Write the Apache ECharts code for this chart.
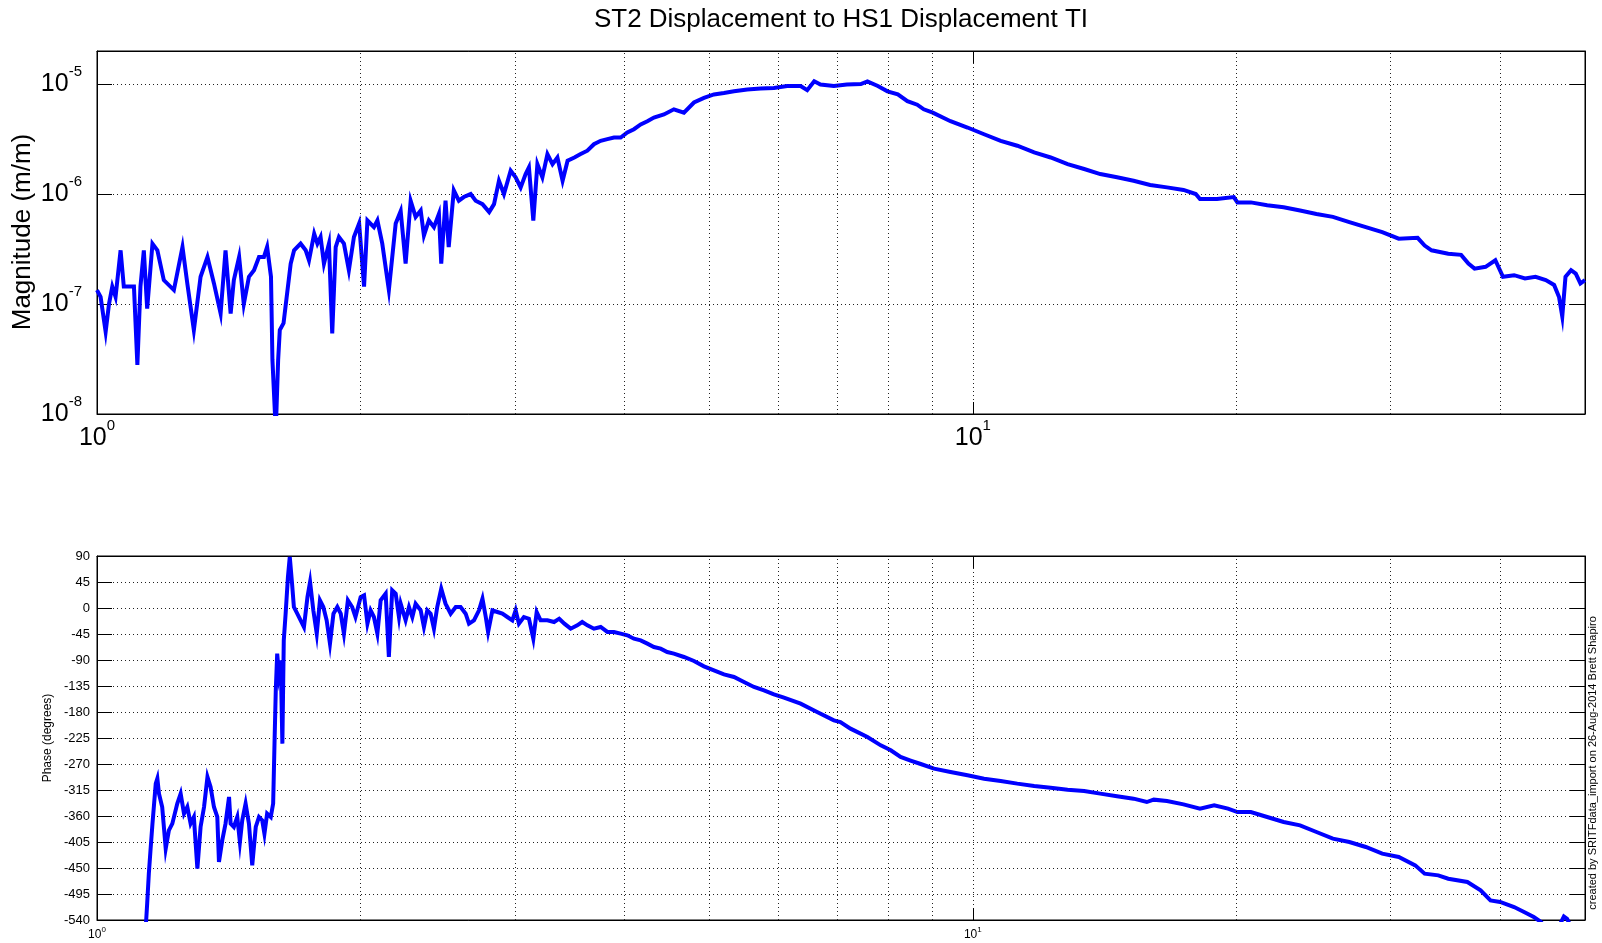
<!DOCTYPE html>
<html>
<head>
<meta charset="utf-8">
<title>ST2 Displacement to HS1 Displacement TI</title>
<script src="https://cdn.jsdelivr.net/npm/echarts@6/dist/echarts.min.js"></script>
<style>
  html, body { margin: 0; padding: 0; background: #fff; }
  #chart { width: 1602px; height: 943px; }
</style>
</head>
<body>
<div id="chart"></div>
<script>
// Transfer function ST2 displacement -> HS1 displacement, magnitude (m/m)
const magFreq = [
  1.000, 1.0095, 1.023, 1.032, 1.041, 1.050, 1.064, 1.073, 1.088, 1.102,
  1.112, 1.121, 1.131, 1.141, 1.157, 1.172, 1.192, 1.224, 1.252, 1.268,
  1.290, 1.313, 1.337, 1.360, 1.384, 1.402, 1.421, 1.433, 1.453, 1.471,
  1.491, 1.511, 1.531, 1.551, 1.564, 1.580, 1.586, 1.600, 1.610, 1.617,
  1.633, 1.664, 1.679, 1.708, 1.731, 1.746, 1.770, 1.785, 1.800, 1.816,
  1.840, 1.856, 1.873, 1.889, 1.914, 1.939, 1.965, 1.992, 2.018, 2.036,
  2.071, 2.090, 2.117, 2.154, 2.193, 2.222, 2.251, 2.281, 2.311, 2.342,
  2.362, 2.393, 2.425, 2.457, 2.472, 2.500, 2.521, 2.555, 2.589, 2.623,
  2.671, 2.706, 2.755, 2.804, 2.840, 2.877, 2.915, 2.967, 3.006, 3.046,
  3.086, 3.113, 3.149, 3.183, 3.225, 3.268, 3.312, 3.355, 3.401, 3.446,
  3.508, 3.566, 3.630, 3.693, 3.759, 3.826, 3.893, 3.962, 4.032, 4.103,
  4.176, 4.250, 4.324, 4.439, 4.557, 4.679, 4.804, 4.932, 5.063, 5.198,
  5.337, 5.526, 5.725, 5.928, 6.138, 6.359, 6.47, 6.59, 6.70, 6.94,
  7.18, 7.45, 7.58, 7.79, 7.99, 8.21, 8.42, 8.64, 8.79, 9.00,
  9.43, 9.86, 10.30, 10.76, 11.24, 11.75, 12.27, 12.83, 13.40, 13.98,
  14.61, 15.26, 15.94, 16.66, 17.40, 17.97, 18.17, 19.0, 19.86, 20.05,
  20.77, 21.68, 22.64, 23.64, 24.68, 25.77, 26.91, 28.10, 29.34, 30.64,
  32.2, 32.8, 33.4, 34.9, 36.1, 36.8, 37.4, 38.5, 39.5, 40.3,
  41.5, 42.7, 43.9, 45.1, 46.1, 46.7, 47.1, 47.5, 48.2, 48.8,
  49.4, 50.0
];
const magValue = [
  1.34e-7, 1.16e-7, 5.6e-8, 1.0e-7, 1.44e-7, 1.16e-7, 3.08e-7, 1.44e-7, 1.44e-7, 1.44e-7,
  2.8e-8, 1.44e-7, 3.08e-7, 9.1e-8, 3.54e-7, 3.08e-7, 1.65e-7, 1.34e-7, 3.3e-7, 1.54e-7,
  5.8e-8, 1.77e-7, 2.68e-7, 1.54e-7, 8.2e-8, 3.08e-7, 8.2e-8, 1.65e-7, 2.68e-7, 1.0e-7,
  1.77e-7, 2.03e-7, 2.68e-7, 2.68e-7, 3.3e-7, 1.77e-7, 3.1e-8, 7e-9, 3.1e-8, 5.8e-8,
  6.7e-8, 2.33e-7, 3.08e-7, 3.54e-7, 3.08e-7, 2.5e-7, 4.36e-7, 3.54e-7, 4.07e-7, 2.33e-7,
  3.54e-7, 5.4e-8, 3.3e-7, 4.07e-7, 3.54e-7, 2.03e-7, 4.07e-7, 5.4e-7, 1.44e-7, 5.75e-7,
  5.0e-7, 5.75e-7, 3.54e-7, 1.34e-7, 5.4e-7, 7.0e-7, 2.33e-7, 8.7e-7, 6.2e-7, 7.1e-7,
  4.2e-7, 5.75e-7, 5.0e-7, 6.6e-7, 2.33e-7, 8.7e-7, 3.3e-7, 1.08e-6, 8.7e-7, 9.4e-7,
  1.0e-6, 8.7e-7, 8.1e-7, 6.85e-7, 8.1e-7, 1.32e-6, 1.0e-6, 1.63e-6, 1.42e-6, 1.15e-6,
  1.52e-6, 1.75e-6, 5.75e-7, 1.87e-6, 1.42e-6, 2.31e-6, 1.87e-6, 2.15e-6, 1.32e-6, 2.01e-6,
  2.15e-6, 2.31e-6, 2.48e-6, 2.84e-6, 3.05e-6, 3.16e-6, 3.27e-6, 3.27e-6, 3.63e-6, 3.89e-6,
  4.3e-6, 4.6e-6, 4.96e-6, 5.3e-6, 5.9e-6, 5.5e-6, 6.8e-6, 7.5e-6, 8.06e-6, 8.3e-6,
  8.6e-6, 8.95e-6, 9.1e-6, 9.2e-6, 9.6e-6, 9.6e-6, 8.8e-6, 1.06e-5, 9.9e-6, 9.6e-6,
  9.9e-6, 1.0e-5, 1.06e-5, 9.6e-6, 8.6e-6, 8.06e-6, 7.0e-6, 6.5e-6, 5.9e-6, 5.5e-6,
  4.6e-6, 4.03e-6, 3.5e-6, 3.05e-6, 2.75e-6, 2.39e-6, 2.15e-6, 1.87e-6, 1.69e-6, 1.52e-6,
  1.42e-6, 1.32e-6, 1.21e-6, 1.15e-6, 1.09e-6, 1.0e-6, 9.0e-7, 9.0e-7, 9.4e-7, 8.4e-7,
  8.4e-7, 7.9e-7, 7.6e-7, 7.1e-7, 6.6e-7, 6.2e-7, 5.56e-7, 5.0e-7, 4.5e-7, 3.93e-7,
  4.0e-7, 3.4e-7, 3.08e-7, 2.87e-7, 2.8e-7, 2.33e-7, 2.1e-7, 2.18e-7, 2.5e-7, 1.77e-7,
  1.83e-7, 1.71e-7, 1.77e-7, 1.65e-7, 1.49e-7, 1.16e-7, 7.7e-8, 1.77e-7, 2.03e-7, 1.89e-7,
  1.54e-7, 1.65e-7
];

// Phase (degrees)
const phaseFreq = [
  1.000, 1.120, 1.135, 1.138, 1.141, 1.146, 1.151, 1.157, 1.162, 1.167,
  1.172, 1.177, 1.187, 1.198, 1.208, 1.219, 1.235, 1.246, 1.257, 1.268,
  1.279, 1.290, 1.302, 1.313, 1.325, 1.337, 1.348, 1.360, 1.372, 1.378,
  1.390, 1.402, 1.415, 1.421, 1.433, 1.446, 1.456, 1.465, 1.478, 1.491,
  1.504, 1.518, 1.531, 1.544, 1.553, 1.564, 1.579, 1.589, 1.595, 1.600,
  1.606, 1.613, 1.621, 1.628, 1.634, 1.642, 1.652, 1.660, 1.670, 1.678,
  1.693, 1.708, 1.723, 1.739, 1.751, 1.766, 1.782, 1.797, 1.813, 1.829,
  1.845, 1.862, 1.881, 1.898, 1.914, 1.934, 1.956, 1.973, 2.000, 2.018,
  2.036, 2.053, 2.071, 2.090, 2.108, 2.136, 2.154, 2.173, 2.193, 2.212,
  2.222, 2.251, 2.271, 2.291, 2.311, 2.342, 2.362, 2.383, 2.404, 2.425,
  2.446, 2.472, 2.500, 2.534, 2.568, 2.601, 2.636, 2.659, 2.694, 2.730,
  2.755, 2.779, 2.796, 2.828, 2.865, 2.903, 2.941, 2.980, 3.006, 3.032,
  3.072, 3.113, 3.149, 3.177, 3.210, 3.268, 3.326, 3.371, 3.417, 3.474,
  3.535, 3.581, 3.630, 3.693, 3.759, 3.826, 3.893, 3.962, 4.032, 4.103,
  4.176, 4.250, 4.324, 4.401, 4.478, 4.557, 4.679, 4.804, 4.932, 5.063,
  5.198, 5.337, 5.479, 5.625, 5.775, 5.928, 6.086, 6.359, 6.64, 6.94,
  7.06, 7.25, 7.58, 7.85, 8.06, 8.27, 8.49, 8.72, 9.03, 9.43,
  9.86, 10.30, 10.76, 11.24, 11.75, 12.27, 12.83, 13.40, 13.98, 14.61,
  15.26, 15.80, 16.09, 16.66, 17.40, 18.17, 18.86, 19.56, 20.05, 20.77,
  21.68, 22.64, 23.64, 24.68, 25.77, 26.91, 28.10, 29.34, 30.64, 32.0,
  32.8, 34.0, 34.9, 36.7, 38.0, 39.0, 40.0, 41.5, 42.6, 43.7,
  44.5, 45.5, 46.8, 47.3, 47.7, 48.2, 49.0, 50.0
];
const phaseValue = [
  -650, -600, -560, -540.6, -511.7, -459.8, -419.5, -373.2, -338.6, -304,
  -295, -321.3, -344.4, -416.5, -384.8, -373.2, -338.6, -321.3, -355.9, -344.4,
  -373.2, -361.7, -451.2, -379, -344.4, -292.5, -309.8, -344.4, -361.7, -439.6,
  -402.1, -373.2, -327.1, -373.2, -379, -361.7, -405, -367.5, -338.6, -373.2,
  -445.4, -379, -361.7, -367.5, -390.6, -355.9, -361.7, -338.6, -229, -142.5,
  -79, -113.6, -90.6, -234.8, -56, -9.8, 53.7, 88.3, 42.1, 1.7,
  -9.8, -21.3, -32.9, 19, 45, -4, -44.4, 13.3, 1.7, -21.3,
  -61.7, -9.8, 1.7, -9.8, -44.4, 13.3, 1.7, -15.6, 19, 21.9,
  -27.1, -4, -15.6, -44.4, 13.3, 24.8, -84.8, 30.6, 24.8, -15.6,
  7.5, -21.3, 1.7, -15.6, 7.5, -4, -32.9, -4, -9.8, -35.8,
  1.7, 33.5, 7.5, -9.8, 1.7, 1.7, -9.8, -27.1, -21.3, -4,
  16.2, -15.6, -41.5, -4, -6.9, -9.8, -15.6, -21.3, -4, -27.1,
  -15.6, -18.5, -53.1, -6.9, -21.3, -21.3, -24.2, -18.5, -27.1, -35.8,
  -30, -24.2, -30, -35.8, -32.9, -41.5, -41.5, -44.4, -47.3, -53.1,
  -56, -61.7, -67.5, -70.4, -76.2, -79, -84.8, -91.7, -101, -107.9,
  -114.8, -119.4, -128.1, -136.7, -142.5, -149.4, -155.2, -165.6, -180, -194.4,
  -197.3, -208.8, -223.3, -237.7, -246.3, -257.9, -264, -270, -278.1, -283.8,
  -289.6, -295.4, -299.4, -304, -308, -311, -314.4, -316.7, -321.3, -325.9,
  -330, -335.8, -331.7, -334, -339.8, -347.3, -341.5, -347.3, -353.1, -353.1,
  -361.7, -370.4, -376.1, -387.7, -399.2, -405, -413.6, -425.2, -431, -445.4,
  -459.8, -462.7, -468.5, -474.2, -488.6, -506, -508.8, -517.5, -526.1, -534.8,
  -543, -560, -548, -534, -538, -552, -575, -590
];

// Dotted minor grid positions
const freqMinorGrid = [2, 3, 4, 5, 6, 7, 8, 9, 20, 30, 40];
const magMinorGrid = [
  2e-8, 3e-8, 4e-8, 5e-8, 6e-8, 7e-8, 8e-8, 9e-8,
  2e-7, 3e-7, 4e-7, 5e-7, 6e-7, 7e-7, 8e-7, 9e-7
];

const FONT = 'Liberation Sans, Arial, Helvetica, sans-serif';
const BLUE = '#0000ff';
const dotted = { color: '#222', width: 1, type: [1, 3] };

const pair = (xs, ys) => xs.map((x, i) => [x, ys[i]]);

// "10" with a raised exponent for decade ticks; other ticks stay unlabelled
function decadeLabel(v) {
  const e = Math.log10(v);
  const r = Math.round(e);
  if (Math.abs(e - r) > 1e-6) return '';
  return '{b|10}{s|' + r + '}';
}

const bigRich = {
  b: { fontSize: 25, fontFamily: FONT, color: '#000', lineHeight: 40 },
  s: { fontSize: 15, fontFamily: FONT, color: '#000', lineHeight: 13, verticalAlign: 'top' }
};
const smallRich = {
  b: { fontSize: 12, fontFamily: FONT, color: '#000', lineHeight: 18 },
  s: { fontSize: 8, fontFamily: FONT, color: '#000', lineHeight: 7, verticalAlign: 'top' }
};

const frameLine = { show: true, onZero: false, lineStyle: { color: '#000', width: 1 } };

function freqAxis(gridIndex, position, rich, margin, withLabels) {
  return {
    type: 'log', logBase: 10, gridIndex, position, min: 1, max: 50,
    axisLine: frameLine,
    axisTick: { show: true, inside: true, length: 12, lineStyle: { color: '#000' } },
    axisLabel: withLabels ? {
      show: true, margin, formatter: decadeLabel, rich, interval: 0,
      showMinLabel: true, showMaxLabel: true
    } : { show: false },
    splitLine: { show: withLabels, lineStyle: dotted },
    minorTick: { show: false }, minorSplitLine: { show: false }
  };
}

const option = {
  animation: false,
  backgroundColor: '#fff',
  grid: [
    { left: 97, top: 51, width: 1488, height: 363, show: true, borderColor: '#000', borderWidth: 1 },
    { left: 97, top: 556, width: 1488, height: 364, show: true, borderColor: '#000', borderWidth: 1 }
  ],
  xAxis: [
    freqAxis(0, 'bottom', bigRich, 4, true),
    freqAxis(0, 'top', bigRich, 4, false),
    freqAxis(1, 'bottom', smallRich, 6, true),
    freqAxis(1, 'top', smallRich, 6, false)
  ],
  yAxis: [
    {
      type: 'log', logBase: 10, gridIndex: 0, position: 'left', min: 1e-8, max: 2e-5,
      axisLine: frameLine,
      axisTick: { show: true, inside: true, length: 15, lineStyle: { color: '#000' } },
      axisLabel: { show: true, margin: 15, formatter: decadeLabel, rich: bigRich, showMaxLabel: true },
      splitLine: { show: true, lineStyle: dotted }
    },
    {
      type: 'log', logBase: 10, gridIndex: 0, position: 'right', min: 1e-8, max: 2e-5,
      axisLine: frameLine,
      axisTick: { show: true, inside: true, length: 15, lineStyle: { color: '#000' } },
      axisLabel: { show: false }, splitLine: { show: false }
    },
    {
      type: 'value', gridIndex: 1, position: 'left', min: -540, max: 90, interval: 45,
      axisLine: frameLine,
      axisTick: { show: true, inside: true, length: 15, lineStyle: { color: '#000' } },
      axisLabel: { show: true, margin: 7, fontSize: 13, fontFamily: FONT, color: '#000' },
      splitLine: { show: true, lineStyle: dotted }
    },
    {
      type: 'value', gridIndex: 1, position: 'right', min: -540, max: 90, interval: 45,
      axisLine: frameLine,
      axisTick: { show: true, inside: true, length: 15, lineStyle: { color: '#000' } },
      axisLabel: { show: false }, splitLine: { show: false }
    }
  ],
  series: [
    {
      type: 'line', xAxisIndex: 0, yAxisIndex: 0, data: [], z: 1, silent: true,
      markLine: {
        silent: true, symbol: ['none', 'none'], label: { show: false },
        lineStyle: dotted, emphasis: { disabled: true }, animation: false,
        data: freqMinorGrid.map(v => ({ xAxis: v })).concat(magMinorGrid.map(v => ({ yAxis: v })))
      }
    },
    {
      name: 'Magnitude', type: 'line', xAxisIndex: 0, yAxisIndex: 0, z: 3,
      data: pair(magFreq, magValue),
      showSymbol: false, symbol: 'none', clip: true,
      lineStyle: { color: BLUE, width: 4, join: 'miter' }
    },
    {
      type: 'line', xAxisIndex: 2, yAxisIndex: 2, data: [], z: 1, silent: true,
      markLine: {
        silent: true, symbol: ['none', 'none'], label: { show: false },
        lineStyle: dotted, emphasis: { disabled: true }, animation: false,
        data: freqMinorGrid.map(v => ({ xAxis: v }))
      }
    },
    {
      name: 'Phase', type: 'line', xAxisIndex: 2, yAxisIndex: 2, z: 3,
      data: pair(phaseFreq, phaseValue),
      showSymbol: false, symbol: 'none', clip: true,
      lineStyle: { color: BLUE, width: 4, join: 'miter' }
    }
  ],
  graphic: [
    {
      type: 'text', x: 841, y: 20, silent: true,
      style: { text: 'ST2 Displacement to HS1 Displacement TI', fontSize: 26, fontFamily: FONT,
               fill: '#000', align: 'center', verticalAlign: 'middle' }
    },
    {
      type: 'text', x: 23, y: 232, rotation: Math.PI / 2, silent: true,
      style: { text: 'Magnitude (m/m)', fontSize: 26, fontFamily: FONT,
               fill: '#000', align: 'center', verticalAlign: 'middle' }
    },
    {
      type: 'text', x: 48, y: 738, rotation: Math.PI / 2, silent: true,
      style: { text: 'Phase (degrees)', fontSize: 12, fontFamily: FONT,
               fill: '#000', align: 'center', verticalAlign: 'middle' }
    },
    {
      type: 'text', x: 1593, y: 763, rotation: Math.PI / 2, silent: true,
      style: { text: 'created by SRITFdata_import on 26-Aug-2014 Brett Shapiro', fontSize: 11,
               fontFamily: FONT, fill: '#000', align: 'center', verticalAlign: 'middle' }
    }
  ]
};

const chart = echarts.init(document.getElementById('chart'), null, { renderer: 'canvas' });
chart.setOption(option);
</script>
</body>
</html>
